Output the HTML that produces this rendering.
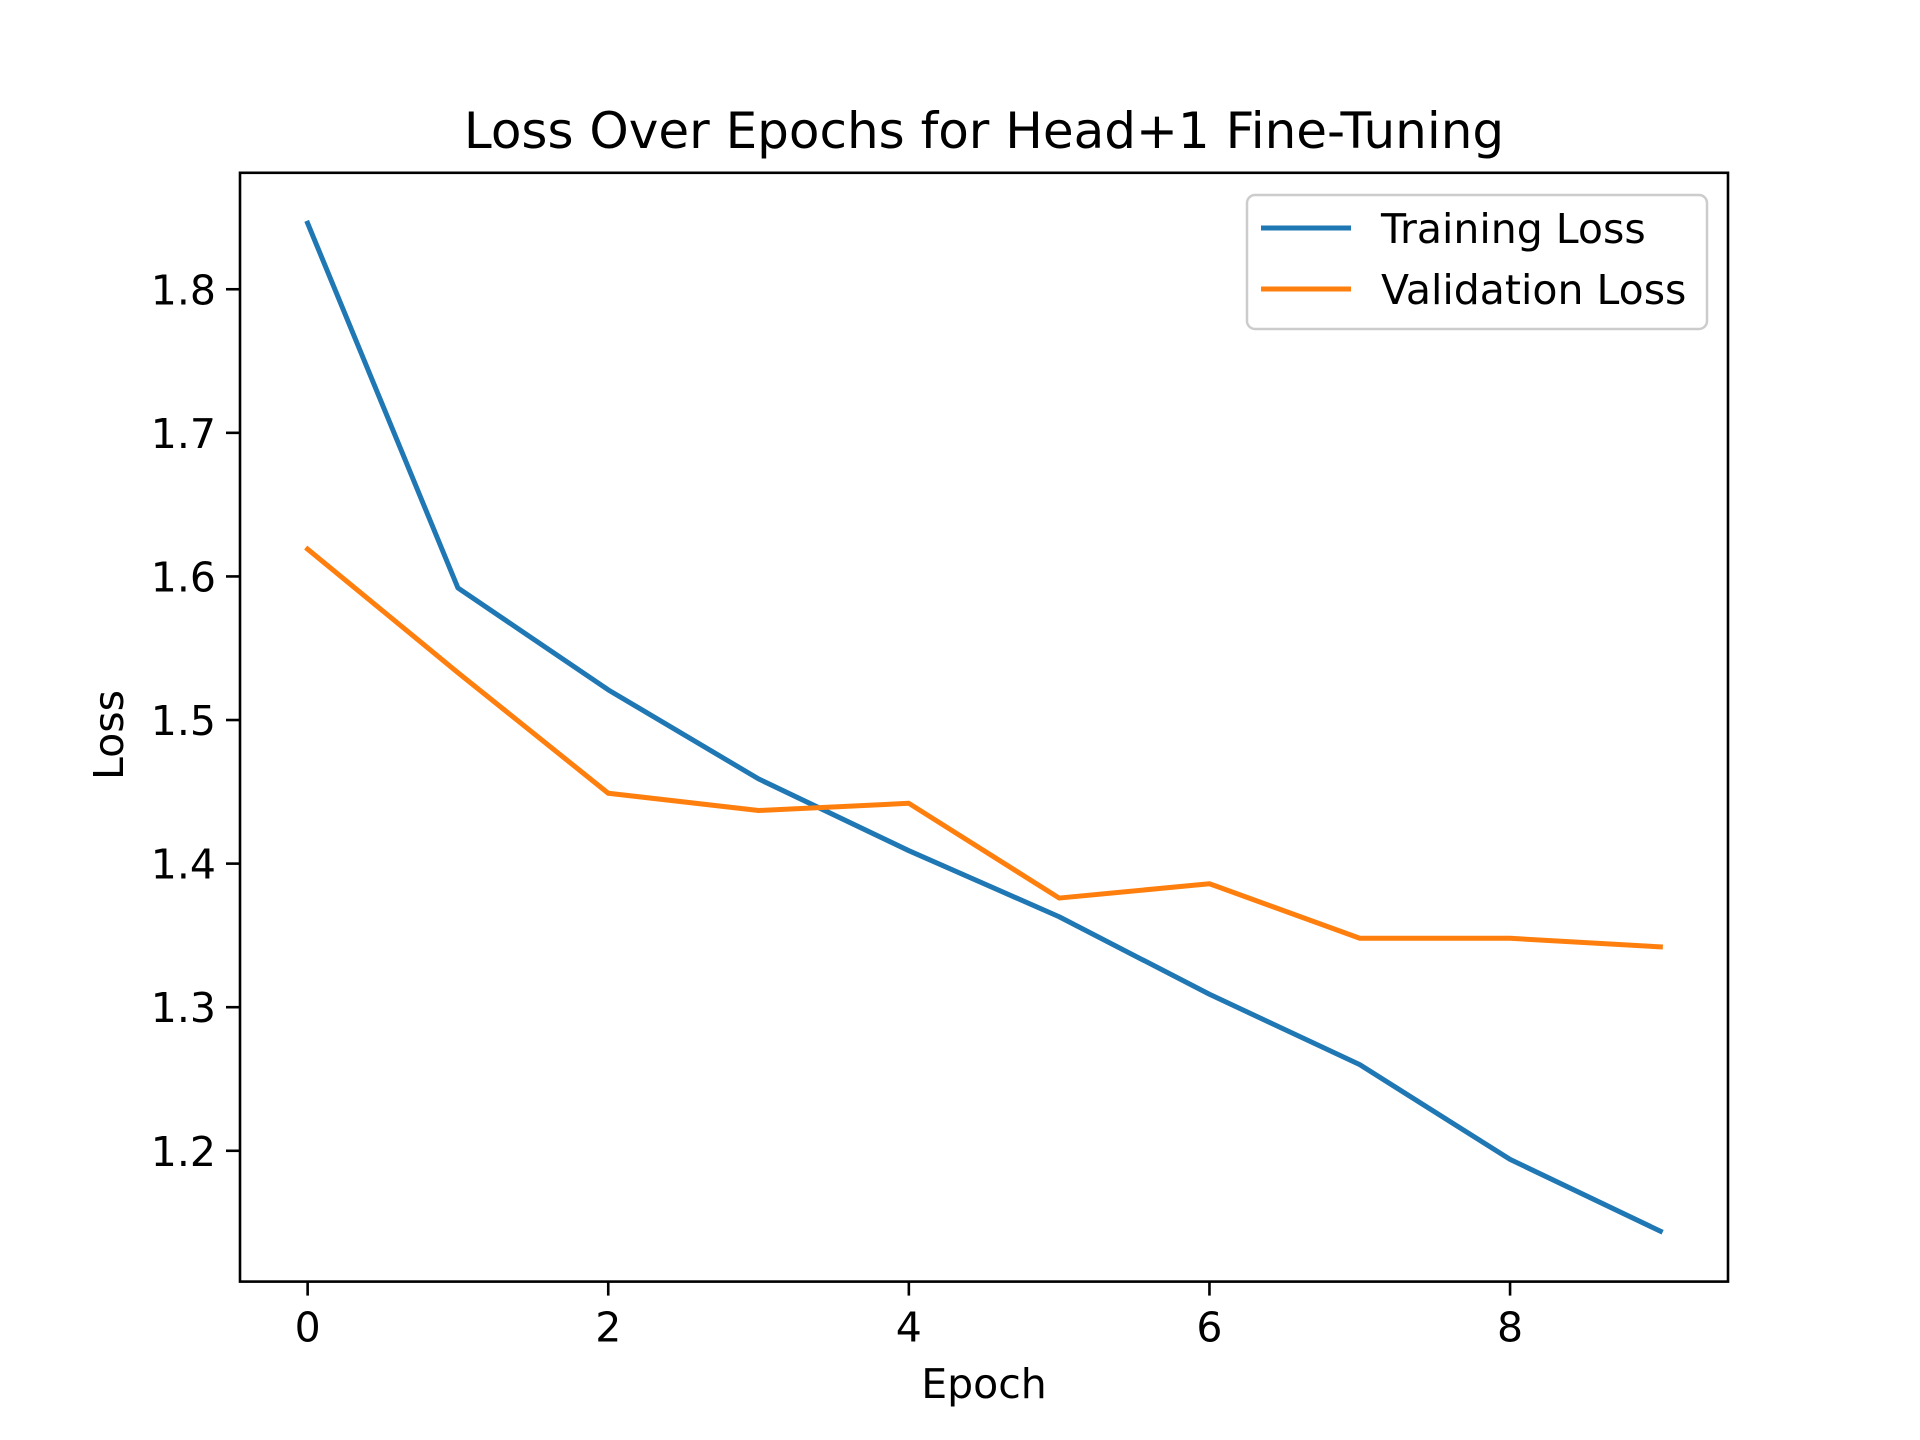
<!DOCTYPE html>
<html><head><meta charset="utf-8"><style>
body{margin:0;background:#fff;}
svg{display:block;font-family:"DejaVu Sans","Liberation Sans",sans-serif;}
</style></head><body>
<svg id="chart" width="1920" height="1440" viewBox="0 0 1920 1440">
<rect width="1920" height="1440" fill="#fff"/>
<text x="984" y="148" font-size="50" text-anchor="middle">Loss Over Epochs for Head+1 Fine-Tuning</text>
<g id="plot"></g>
<rect x="240" y="172.8" width="1488" height="1108.8" fill="none" stroke="#000" stroke-width="2.6"/>
<text x="984" y="1398" font-size="41" text-anchor="middle">Epoch</text>
<text transform="translate(123,735) rotate(-90)" font-size="41" text-anchor="middle">Loss</text>
<g transform="translate(-7,0)">
<rect x="1254" y="195" width="460" height="134" rx="8" fill="#fff" fill-opacity="0.8" stroke="#ccc" stroke-width="2.5"/>
<line x1="1268" y1="228" x2="1358" y2="228" stroke="#1f77b4" stroke-width="5"/>
<text x="1388" y="243" font-size="41">Training Loss</text>
<line x1="1268" y1="289" x2="1358" y2="289" stroke="#ff7f0e" stroke-width="5"/>
<text x="1388" y="304" font-size="41">Validation Loss</text>
</g>
</svg>
<script>
const epochs=[0,1,2,3,4,5,6,7,8,9];
const trainLoss=[1.846,1.592,1.521,1.459,1.409,1.363,1.309,1.260,1.194,1.144];
const valLoss=[1.619,1.533,1.449,1.437,1.442,1.376,1.386,1.348,1.348,1.342];
const xTicks=[0,2,4,6,8];
const yTicks=[1.2,1.3,1.4,1.5,1.6,1.7,1.8];
const L=240,R=1728,T=172.8,B=1281.6;
const xmin=-0.45,xmax=9.45;
const all=trainLoss.concat(valLoss);
const dmin=Math.min(...all),dmax=Math.max(...all),pad=(dmax-dmin)*0.05;
const ymin=dmin-pad,ymax=dmax+pad;
const xs=v=>L+(v-xmin)/(xmax-xmin)*(R-L);
const ys=v=>B-(v-ymin)/(ymax-ymin)*(B-T);
const g=document.getElementById('plot');
const NS='http://www.w3.org/2000/svg';
function mk(t,a){const e=document.createElementNS(NS,t);for(const k in a)e.setAttribute(k,a[k]);g.appendChild(e);return e;}
xTicks.forEach(v=>{
  const l=mk('line',{x1:xs(v),x2:xs(v),y1:B,y2:B+14,stroke:'#000','stroke-width':2.6});
  
  
  const t=mk('text',{x:xs(v),y:B+60,'font-size':41,'text-anchor':'middle'});
  t.textContent=v;
  
  
});
yTicks.forEach(v=>{
  const l=mk('line',{x1:L-14,x2:L,y1:ys(v),y2:ys(v),stroke:'#000','stroke-width':2.6});
  
  
  const t=mk('text',{x:L-24,y:ys(v)+15,'font-size':41,'text-anchor':'end'});
  t.textContent=v.toFixed(1);
  
  
});
function series(vals,color,name){
  const p=mk('polyline',{points:vals.map((v,i)=>xs(epochs[i])+','+ys(v)).join(' '),fill:'none',stroke:color,'stroke-width':5,'stroke-linejoin':'round','stroke-linecap':'square'});
  
  
}
series(trainLoss,'#1f77b4','training-loss-line');
series(valLoss,'#ff7f0e','validation-loss-line');
</script>
</body></html>
